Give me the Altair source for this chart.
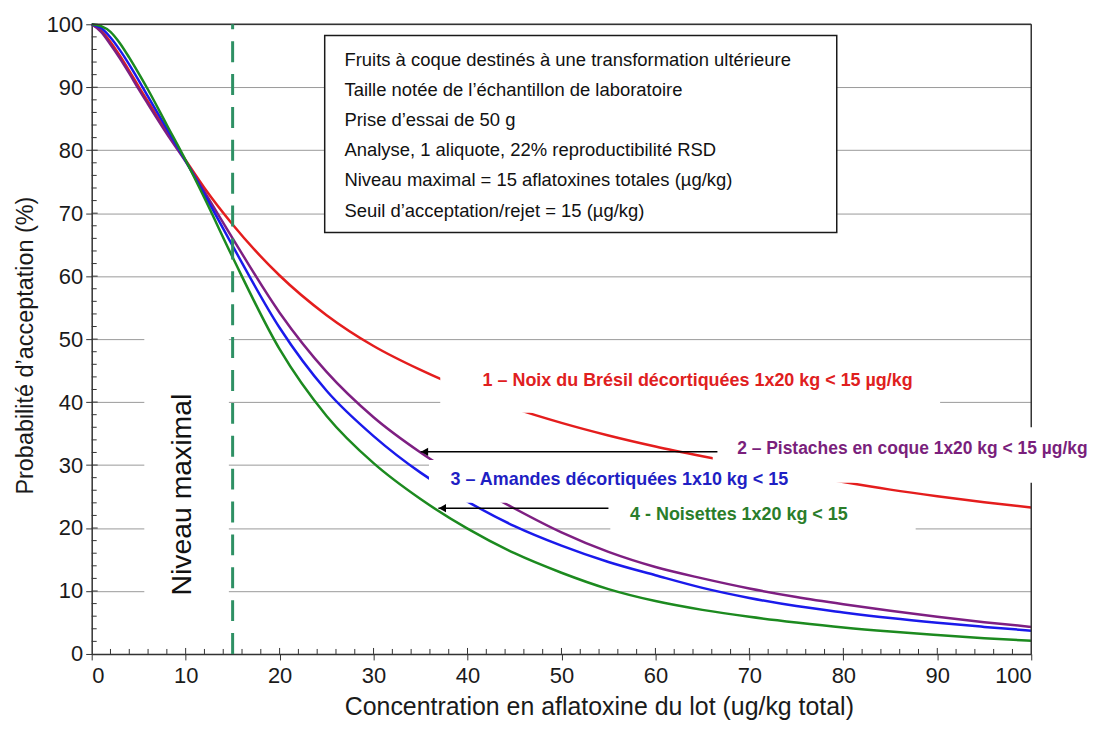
import altair as alt
import pandas as pd

# ---------------- data ----------------
x_vals = [0, 1, 2, 3, 4, 5, 6, 8, 10, 12, 15, 20, 25, 30, 35, 40, 45, 50, 55, 60, 65, 70, 75, 80, 85, 90, 95, 100]
red    = [100, 99.0, 97.2, 95.0, 92.6, 90.1, 87.7, 82.9, 78.4, 74.0, 68.2, 60.1, 53.8, 48.9, 45.1, 41.85, 39.0, 36.7, 34.7, 32.95, 31.4, 29.95, 28.6, 27.3, 26.1, 25.05, 24.1, 23.25]
purple = [100, 98.8, 96.8, 94.6, 92.2, 89.7, 87.3, 82.6, 78.2, 73.4, 66.0, 54.2, 44.8, 37.6, 32.0, 27.3, 23.1, 19.3, 16.2, 13.8, 12.0, 10.4, 9.05, 7.9, 6.85, 5.9, 5.05, 4.3]
blue   = [100, 99.4, 97.9, 95.9, 93.6, 91.1, 88.5, 83.4, 78.3, 73.0, 64.8, 51.8, 41.8, 34.6, 28.8, 24.2, 20.3, 17.2, 14.6, 12.5, 10.5, 8.9, 7.6, 6.6, 5.7, 4.95, 4.3, 3.7]
green  = [100, 99.7, 98.8, 97.0, 94.7, 92.2, 89.6, 84.0, 78.4, 72.4, 63.0, 48.4, 37.8, 30.3, 24.6, 19.9, 16.0, 12.9, 10.3, 8.4, 7.0, 5.9, 5.0, 4.2, 3.55, 3.0, 2.5, 2.1]

series_names = ["1", "2", "3", "4"]
series_colors = ["#e41d1d", "#7e1f82", "#1a1aeb", "#1c8a1f"]

label_texts = [
    "1 – Noix du Brésil décortiquées 1x20 kg < 15 µg/kg",
    "2 – Pistaches en coque 1x20 kg < 15 µg/kg",
    "3 – Amandes décortiquées 1x10 kg < 15",
    "4 - Noisettes 1x20 kg < 15",
]
label_colors = ["#e0201e", "#7a1f7c", "#1f1fc4", "#2a7d2a"]
label_sizes = [18, 17.5, 18, 18]

info_lines = [
    "Fruits à coque destinés à une transformation ultérieure",
    "Taille notée de l’échantillon de laboratoire",
    "Prise d’essai de 50 g",
    "Analyse, 1 aliquote, 22% reproductibilité RSD",
    "Niveau maximal = 15 aflatoxines totales (µg/kg)",
    "Seuil d’acceptation/rejet = 15 (µg/kg)",
]

x_title = "Concentration en aflatoxine du lot (ug/kg total)"
y_title = "Probabilité d’acceptation (%)"
max_level = 15
tick_labels = list(range(0, 101, 10))

# ---------------- tables ----------------
rows = []
for name, vals in zip(series_names, [red, purple, blue, green]):
    for xv, yv in zip(x_vals, vals):
        rows.append({"serie": name, "x": xv, "y": yv})
df = pd.DataFrame(rows)

W, H = 943, 632
FONT = "Liberation Sans"

xs = alt.Scale(domain=[0, 100], nice=False, zero=False)
ys = alt.Scale(domain=[0, 100], nice=False, zero=False)

lines = alt.Chart(df).mark_line(strokeWidth=2.5, interpolate="monotone").encode(
    x=alt.X("x:Q", scale=xs, axis=alt.Axis(
        values=tick_labels, grid=False, title=x_title, tickSize=6,
        labelPadding=6, titlePadding=8, titleFontSize=25, titleX=509)),
    y=alt.Y("y:Q", scale=ys, axis=alt.Axis(
        values=tick_labels, grid=True, gridColor="#9a9a9a", gridWidth=1,
        title=y_title, tickSize=6, labelPadding=3, titlePadding=9,
        titleFontSize=23.5, titleY=322)),
    color=alt.Color("serie:N", scale=alt.Scale(domain=series_names, range=series_colors), legend=None),
    order=alt.Order("x:Q"),
)

# frame (top / right)
top_df = pd.DataFrame({"yv": [100]})
frame_top = alt.Chart(top_df).mark_rule(color="#333333", strokeWidth=1.5).encode(
    y=alt.Y("yv:Q", scale=ys, axis=None), x=alt.value(0), x2=alt.value(W))
right_df = pd.DataFrame({"xv": [100]})
frame_right = alt.Chart(right_df).mark_rule(color="#333333", strokeWidth=1.5).encode(
    x=alt.X("xv:Q", scale=xs, axis=None), y=alt.value(0), y2=alt.value(H))

# inner ticks
minor = pd.DataFrame({"t": [v for v in range(2, 100, 2) if v % 10]})
major = pd.DataFrame({"t": list(range(10, 100, 10))})
x_minor = alt.Chart(minor).mark_rule(color="#333333").encode(
    x=alt.X("t:Q", scale=xs, axis=None), y=alt.value(H), y2=alt.value(H - 5))
x_major = alt.Chart(major).mark_rule(color="#333333").encode(
    x=alt.X("t:Q", scale=xs, axis=None), y=alt.value(H), y2=alt.value(H - 6))
y_minor = alt.Chart(minor).mark_rule(color="#333333").encode(
    y=alt.Y("t:Q", scale=ys, axis=None), x=alt.value(0), x2=alt.value(5))
y_major = alt.Chart(major).mark_rule(color="#333333").encode(
    y=alt.Y("t:Q", scale=ys, axis=None), x=alt.value(0), x2=alt.value(6))

# dashed limit line
lim_df = pd.DataFrame({"xv": [max_level]})
limit = alt.Chart(lim_df).mark_rule(color="#2e9064", strokeWidth=3, strokeDash=[21, 12]).encode(
    x=alt.X("xv:Q", scale=xs, axis=None), y=alt.value(H), y2=alt.value(0))

# white label backgrounds
bg_df = pd.DataFrame({
    "x1": [37.1, 66.1, 35.9, 55.2, 5.6],
    "x2": [90.3, 107.7, 75.1, 87.7, 14.6],
    "y1": [47.0, 36.0, 30.8, 24.8, 51.4],
    "y2": [38.3, 27.2, 24.0, 18.9, 8.6],
})
bgs = alt.Chart(bg_df).mark_rect(color="white").encode(
    x=alt.X("x1:Q", scale=xs, axis=None), x2="x2:Q",
    y=alt.Y("y1:Q", scale=ys, axis=None), y2="y2:Q")

# arrows
arr_df = pd.DataFrame({"xs": [66.6, 55.0], "xe": [35.0, 36.9], "y": [32.1, 23.15]})
arr_lines = alt.Chart(arr_df).mark_rule(color="black", strokeWidth=1.5).encode(
    x=alt.X("xs:Q", scale=xs, axis=None), x2="xe:Q", y=alt.Y("y:Q", scale=ys, axis=None))
arr_heads = alt.Chart(arr_df).mark_point(shape="triangle-left", filled=True, size=70,
                                         color="black", opacity=1, xOffset=4).encode(
    x=alt.X("xe:Q", scale=xs, axis=None), y=alt.Y("y:Q", scale=ys, axis=None))

# colored labels
lab_df = pd.DataFrame({
    "text": label_texts,
    "x": [41.6, 68.7, 38.2, 57.3],
    "y": [43.3, 32.5, 27.6, 22.1],
    "c": label_colors,
    "s": label_sizes,
})
labels = alt.Chart(lab_df).mark_text(align="left", baseline="middle", fontWeight="bold",
                                     font=FONT).encode(
    x=alt.X("x:Q", scale=xs, axis=None), y=alt.Y("y:Q", scale=ys, axis=None),
    text="text:N", color=alt.Color("c:N", scale=None),
    size=alt.Size("s:Q", scale=None, legend=None))

# info box
box_df = pd.DataFrame({"x1": [24.8], "x2": [79.3], "y1": [98.2], "y2": [66.95]})
box = alt.Chart(box_df).mark_rect(fill="white", stroke="#1a1a1a", strokeWidth=1.5).encode(
    x=alt.X("x1:Q", scale=xs, axis=None), x2="x2:Q",
    y=alt.Y("y1:Q", scale=ys, axis=None), y2="y2:Q")
info_df = pd.DataFrame({
    "text": info_lines,
    "x": [26.9] * 6,
    "y": [94.4, 89.6, 84.8, 80.0, 75.2, 70.4],
})
info = alt.Chart(info_df).mark_text(align="left", baseline="middle", fontSize=18.5,
                                    font=FONT, color="#111111").encode(
    x=alt.X("x:Q", scale=xs, axis=None), y=alt.Y("y:Q", scale=ys, axis=None), text="text:N")

# vertical "Niveau maximal"
nm_df = pd.DataFrame({"text": ["Niveau maximal"], "x": [9.6], "y": [25.3]})
nm = alt.Chart(nm_df).mark_text(angle=270, align="center", baseline="middle", fontSize=28.5,
                                font=FONT, color="#111111").encode(
    x=alt.X("x:Q", scale=xs, axis=None), y=alt.Y("y:Q", scale=ys, axis=None), text="text:N")

chart = alt.layer(
    lines, frame_top, frame_right, x_minor, x_major, y_minor, y_major, limit,
    bgs, arr_lines, arr_heads, labels, box, info, nm,
).resolve_axis(
    x="independent", y="independent"
).properties(
    width=W, height=H,
    autosize=alt.AutoSizeParams(type="none"),
    padding={"left": 84, "top": 15, "right": 66, "bottom": 79},
).configure_view(stroke=None).configure_axis(
    labelFont=FONT, labelFontSize=22, labelColor="#1a1a1a",
    titleFont=FONT, titleFontWeight="normal", titleColor="#1a1a1a",
    domainColor="#333333", domainWidth=1.5, tickColor="#333333",
)

chart.save("out.html", embed_options={"renderer": "svg", "actions": False})
